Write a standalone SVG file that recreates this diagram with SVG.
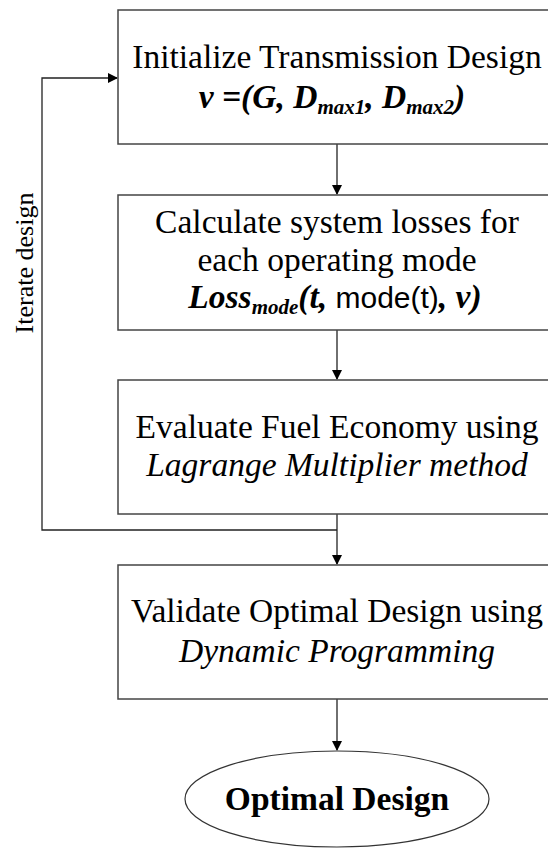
<svg xmlns="http://www.w3.org/2000/svg" width="548" height="848" viewBox="0 0 548 848">
<style>
.box{fill:#fff;stroke:#444;stroke-width:1.5}
.t{font-family:"Liberation Serif","Times New Roman",serif;font-size:33.5px;fill:#000;text-anchor:middle}
.bi{font-weight:bold;font-style:italic}
.it{font-style:italic}
.sub{font-size:21px}
.line{fill:none;stroke:#222;stroke-width:1.3}
</style>
<defs>
<marker id="ah" markerWidth="10" markerHeight="10" refX="9" refY="5" orient="auto" markerUnits="userSpaceOnUse">
<path d="M0,0 L10,5 L0,10 Z" fill="#000"/>
</marker>
</defs>
<rect width="548" height="848" fill="#fff"/>
<g id="connectors">
<line class="line" x1="337" y1="144" x2="337" y2="194" marker-end="url(#ah)"/>
<line class="line" x1="337" y1="330" x2="337" y2="379" marker-end="url(#ah)"/>
<line class="line" x1="337" y1="514" x2="337" y2="564" marker-end="url(#ah)"/>
<line class="line" x1="337" y1="699" x2="337" y2="750" marker-end="url(#ah)"/>
<polyline class="line" points="337,530 42,530 42,78 117,78" marker-end="url(#ah)"/>
<text class="t" style="font-size:26px" transform="translate(33,263) rotate(-90)">Iterate design</text>
</g>
<g id="node1">
<rect class="box" x="118" y="10" width="450" height="134"/>
<text class="t" x="337" y="68">Initialize Transmission Design</text>
<text class="t bi" x="332" y="108">v =(G, D<tspan class="sub" dy="6">max1</tspan><tspan dy="-6">, D</tspan><tspan class="sub" dy="6">max2</tspan><tspan dy="-6">)</tspan></text>
</g>
<g id="node2">
<rect class="box" x="118" y="195" width="450" height="135"/>
<text class="t" x="337" y="233">Calculate system losses for</text>
<text class="t" x="337" y="271">each operating mode</text>
<text class="t" x="335" y="308"><tspan class="bi">Loss</tspan><tspan class="bi sub" dy="6">mode</tspan><tspan class="bi" dy="-6">(t,</tspan><tspan style="font-family:'Liberation Sans',Arial,sans-serif;font-size:30px"> mode(t)</tspan><tspan class="bi">, v)</tspan></text>
</g>
<g id="node3">
<rect class="box" x="118" y="380" width="450" height="134"/>
<text class="t" x="337" y="438">Evaluate Fuel Economy using</text>
<text class="t it" x="337" y="476">Lagrange Multiplier method</text>
</g>
<g id="node4">
<rect class="box" x="118" y="565" width="450" height="134"/>
<text class="t" x="337" y="622">Validate Optimal Design using</text>
<text class="t it" x="337" y="662">Dynamic Programming</text>
</g>
<g id="node5">
<ellipse cx="337" cy="799" rx="152" ry="48" fill="#fff" stroke="#333" stroke-width="1.2"/>
<text class="t" style="font-weight:bold" x="337" y="810">Optimal Design</text>
</g>
</svg>
